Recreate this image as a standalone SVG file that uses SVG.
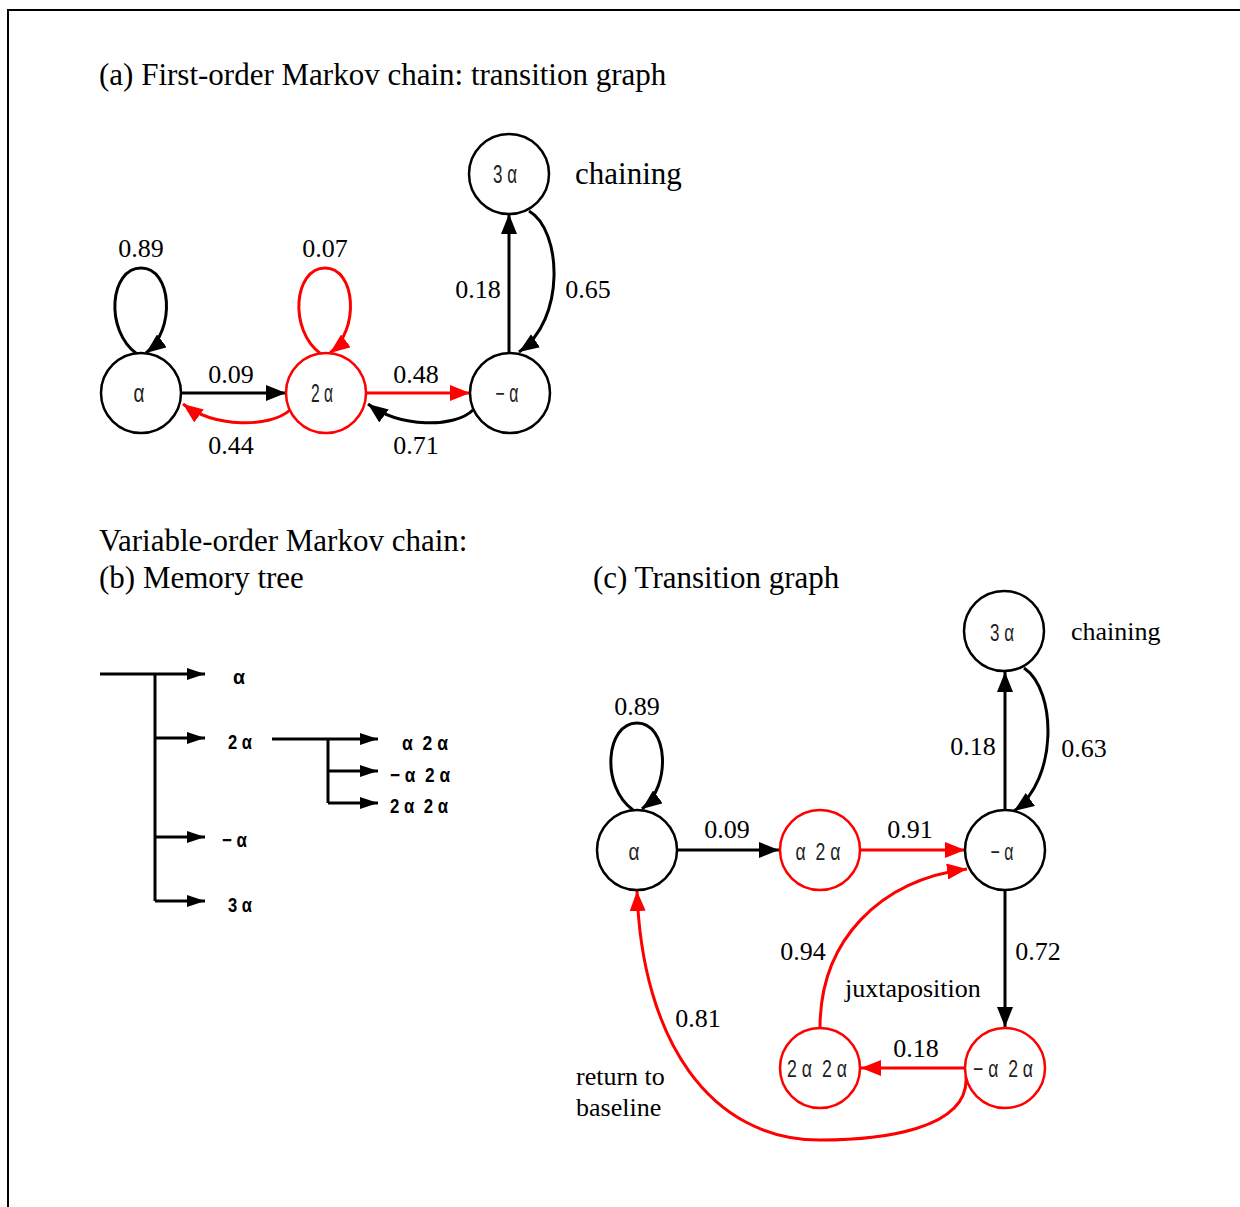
<svg xmlns="http://www.w3.org/2000/svg" width="1240" height="1207" viewBox="0 0 1240 1207">
<defs>
<marker id="ab" markerUnits="userSpaceOnUse" markerWidth="20" markerHeight="16" refX="20" refY="8" orient="auto"><path d="M0,0 L20,8 L0,16 z" fill="#000"/></marker>
<marker id="ar" markerUnits="userSpaceOnUse" markerWidth="20" markerHeight="16" refX="20" refY="8" orient="auto"><path d="M0,0 L20,8 L0,16 z" fill="#f00"/></marker>
<marker id="at" markerUnits="userSpaceOnUse" markerWidth="18" markerHeight="12" refX="18" refY="6" orient="auto"><path d="M0,0 L18,6 L0,12 z" fill="#000"/></marker>
</defs>
<style>
.nb{fill:#fff;stroke:#000;stroke-width:2.5}
.nr{fill:#fff;stroke:#f00;stroke-width:2.5}
.nt{font-family:"Liberation Sans",Arial,sans-serif;font-size:25px;fill:#222;text-anchor:middle;white-space:pre}
.nc{font-family:"Liberation Sans",Arial,sans-serif;font-size:24px;fill:#222;text-anchor:middle;white-space:pre}
.tt{font-family:"Liberation Sans",Arial,sans-serif;font-size:21px;fill:#000;font-weight:bold;white-space:pre}
.lb{font-family:"Liberation Serif","Times New Roman",serif;font-size:26px;fill:#000;text-anchor:middle}
.tx{font-family:"Liberation Serif","Times New Roman",serif;font-size:26px;fill:#000}
.hd{font-family:"Liberation Serif","Times New Roman",serif;font-size:31px;fill:#000}
.eb{fill:none;stroke:#000;stroke-width:3;marker-end:url(#ab)}
.er{fill:none;stroke:#f00;stroke-width:3;marker-end:url(#ar)}
.tl{fill:none;stroke:#000;stroke-width:3}
.ta{fill:none;stroke:#000;stroke-width:3;marker-end:url(#at)}
</style>
<rect width="1240" height="1207" fill="#fff"/>
<path d="M8,1207 L8,10 L1240,10" fill="none" stroke="#000" stroke-width="2"/>

<text class="hd" x="99" y="85">(a) First-order Markov chain: transition graph</text>
<text class="hd" x="99" y="551">Variable-order Markov chain:</text>
<text class="hd" x="99" y="588">(b) Memory tree</text>
<text class="hd" x="593" y="588">(c) Transition graph</text>

<g id="connectors-a">
<path class="eb" d="M137,354 C104,330 110,268 141,268 C172,268 176,330 146,353"/>
<path class="er" d="M321,354 C288,330 294,268 325,268 C356,268 360,330 330,353"/>
<path class="eb" d="M181,393 L286,393"/>
<path class="er" d="M290,410 C270,428 215,428 183,404"/>
<path class="er" d="M366,393 L470,393"/>
<path class="eb" d="M473,410 C455,428 400,428 368,404"/>
<path class="eb" d="M509,352 L509,214"/>
<path class="eb" d="M529,211 C562,230 566,320 519,352"/>
</g>
<g id="labels-a">
<text class="lb" x="141" y="257">0.89</text>
<text class="lb" x="325" y="257">0.07</text>
<text class="lb" x="231" y="383">0.09</text>
<text class="lb" x="231" y="454">0.44</text>
<text class="lb" x="416" y="383">0.48</text>
<text class="lb" x="416" y="454">0.71</text>
<text class="lb" x="478" y="298">0.18</text>
<text class="lb" x="588" y="298">0.65</text>
<text class="hd" x="575" y="184">chaining</text>
</g>
<g id="a-alpha"><circle class="nb" cx="141" cy="393" r="40"/><text class="nt" x="139" y="402" textLength="11" lengthAdjust="spacingAndGlyphs">α</text></g>
<g id="a-2alpha"><circle class="nr" cx="326" cy="393" r="40"/><text class="nt" x="322" y="402" textLength="22" lengthAdjust="spacingAndGlyphs">2 α</text></g>
<g id="a-negalpha"><circle class="nb" cx="510" cy="393" r="40"/><text class="nt" x="507" y="402" textLength="23" lengthAdjust="spacingAndGlyphs">− α</text></g>
<g id="a-3alpha"><circle class="nb" cx="509" cy="174" r="40"/><text class="nt" x="505" y="183" textLength="24" lengthAdjust="spacingAndGlyphs">3 α</text></g>

<g id="tree-connectors">
<path class="ta" d="M100,674 L205,674"/>
<path class="tl" d="M155,674 L155,901"/>
<path class="ta" d="M155,738 L205,738"/>
<path class="ta" d="M155,837 L205,837"/>
<path class="ta" d="M155,901 L205,901"/>
<path class="ta" d="M272,739 L378,739"/>
<path class="tl" d="M328,739 L328,803"/>
<path class="ta" d="M328,771 L378,771"/>
<path class="ta" d="M328,803 L378,803"/>
</g>
<g id="tree-alpha"><text class="tt" x="233" y="684" textLength="12" lengthAdjust="spacingAndGlyphs">α</text></g>
<g id="tree-2alpha"><text class="tt" x="228" y="749" textLength="24" lengthAdjust="spacingAndGlyphs">2 α</text></g>
<g id="tree-negalpha"><text class="tt" x="222" y="847" textLength="25" lengthAdjust="spacingAndGlyphs">− α</text></g>
<g id="tree-3alpha"><text class="tt" x="228" y="912" textLength="24" lengthAdjust="spacingAndGlyphs">3 α</text></g>
<g id="tree-alpha-2alpha"><text class="tt" x="402" y="750" textLength="46" lengthAdjust="spacingAndGlyphs">α  2 α</text></g>
<g id="tree-negalpha-2alpha"><text class="tt" x="390" y="782" textLength="60" lengthAdjust="spacingAndGlyphs">− α  2 α</text></g>
<g id="tree-2alpha-2alpha"><text class="tt" x="390" y="813" textLength="58" lengthAdjust="spacingAndGlyphs">2 α  2 α</text></g>

<g id="connectors-c">
<path class="eb" d="M633,810 C600,786 606,723 637,723 C668,723 672,786 642,809"/>
<path class="eb" d="M677,850 L779,850"/>
<path class="er" d="M860,850 L965,850"/>
<path class="eb" d="M1005,810 L1005,672"/>
<path class="eb" d="M1024,668 C1057,690 1058,780 1014,811"/>
<path class="eb" d="M1005,890 L1005,1027"/>
<path class="er" d="M965,1068 L861,1068"/>
<path class="er" d="M820,1028 C820,940 880,880 967,869"/>
<path class="er" d="M966,1076 C970,1130 880,1140 820,1140 C710,1140 642,1040 637,891"/>
</g>
<g id="labels-c">
<text class="lb" x="637" y="715">0.89</text>
<text class="lb" x="727" y="838">0.09</text>
<text class="lb" x="910" y="838">0.91</text>
<text class="lb" x="973" y="755">0.18</text>
<text class="lb" x="1084" y="757">0.63</text>
<text class="lb" x="1038" y="960">0.72</text>
<text class="lb" x="803" y="960">0.94</text>
<text class="lb" x="698" y="1027">0.81</text>
<text class="lb" x="916" y="1057">0.18</text>
<text class="tx" x="845" y="997">juxtaposition</text>
<text class="tx" x="1071" y="640">chaining</text>
<text class="tx" x="576" y="1085">return to</text>
<text class="tx" x="576" y="1116">baseline</text>
</g>
<g id="c-alpha"><circle class="nb" cx="637" cy="850" r="40"/><text class="nc" x="634" y="860" textLength="11" lengthAdjust="spacingAndGlyphs">α</text></g>
<g id="c-alpha-2alpha"><circle class="nr" cx="820" cy="850" r="40"/><text class="nc" x="818" y="860" textLength="45" lengthAdjust="spacingAndGlyphs">α  2 α</text></g>
<g id="c-negalpha"><circle class="nb" cx="1005" cy="850" r="40"/><text class="nc" x="1002" y="860" textLength="23" lengthAdjust="spacingAndGlyphs">− α</text></g>
<g id="c-3alpha"><circle class="nb" cx="1004" cy="631" r="40"/><text class="nc" x="1002" y="641" textLength="24" lengthAdjust="spacingAndGlyphs">3 α</text></g>
<g id="c-2alpha-2alpha"><circle class="nr" cx="820" cy="1068" r="40"/><text class="nc" x="817" y="1077" textLength="60" lengthAdjust="spacingAndGlyphs">2 α  2 α</text></g>
<g id="c-negalpha-2alpha"><circle class="nr" cx="1005" cy="1068" r="40"/><text class="nc" x="1003" y="1077" textLength="60" lengthAdjust="spacingAndGlyphs">− α  2 α</text></g>
</svg>
